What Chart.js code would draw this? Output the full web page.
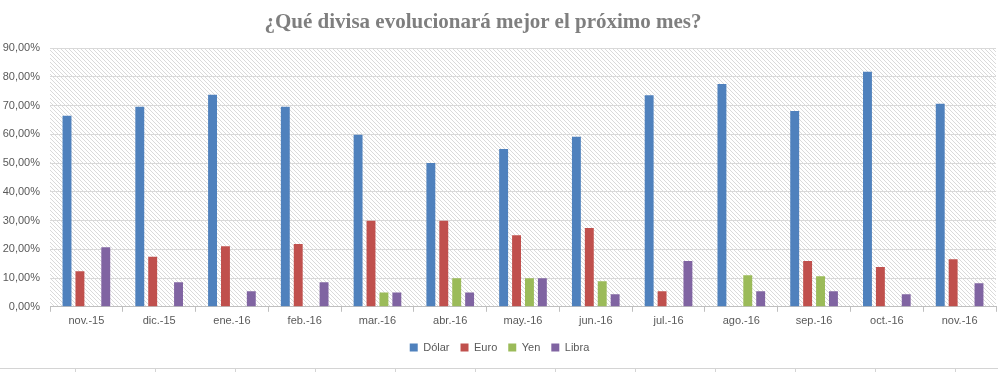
<!DOCTYPE html>
<html>
<head>
<meta charset="utf-8">
<script src="https://cdn.jsdelivr.net/npm/chart.js@4.4.0/dist/chart.umd.min.js"></script>
<style>
  html, body { margin: 0; padding: 0; background: #fff; }
  #wrap { position: relative; width: 998px; height: 372px; }
  #titulo {
    position: absolute; left: 0; top: 8px; width: 966px;
    text-align: center; color: #7f7f7f;
    font: bold 21px 'Liberation Serif', serif; line-height: 26px;
  }
</style>
</head>
<body>
<div id="wrap">
  <canvas id="divisaChart" width="998" height="372"></canvas>
  <div id="titulo">¿Qué divisa evolucionará mejor el próximo mes?</div>
</div>
<script>
var meses = ['nov.-15', 'dic.-15', 'ene.-16', 'feb.-16', 'mar.-16', 'abr.-16', 'may.-16',
             'jun.-16', 'jul.-16', 'ago.-16', 'sep.-16', 'oct.-16', 'nov.-16'];
var dolar = [66.4, 69.6, 73.7, 69.6, 59.8, 50.0, 54.9, 59.1, 73.6, 77.5, 68.1, 81.7, 70.6];
var euro  = [12.4, 17.4, 21.1, 21.8, 29.9, 29.9, 24.9, 27.4, 5.4, null, 15.9, 13.8, 16.5];
var yen   = [null, null, null, null, 5.0, 9.9, 9.9, 8.9, null, 11.0, 10.6, null, null];
var libra = [20.7, 8.5, 5.4, 8.5, 5.0, 5.0, 9.9, 4.4, 15.9, 5.4, 5.4, 4.4, 8.2];
var yTicks = [0, 10, 20, 30, 40, 50, 60, 70, 80, 90];

// diagonal hatch behind the bars, like the excel plot area
var hatchPlugin = {
    id: 'hatch',
    beforeDraw: function (chart) {
        var ctx = chart.ctx, a = chart.chartArea;
        var pc = document.createElement('canvas');
        pc.width = 4; pc.height = 4;
        var p = pc.getContext('2d');
        p.fillStyle = '#ffffff';
        p.fillRect(0, 0, 4, 4);
        p.fillStyle = '#dadada';
        for (var i = 0; i < 4; i++) p.fillRect(i, i, 1, 1);
        ctx.save();
        ctx.fillStyle = ctx.createPattern(pc, 'repeat');
        ctx.fillRect(a.left, a.top, a.right - a.left, a.bottom - a.top);
        ctx.restore();
    },
    afterDraw: function (chart) {
        // spreadsheet cell borders showing under the chart
        var ctx = chart.ctx;
        ctx.save();
        ctx.strokeStyle = '#d4d4d4';
        ctx.lineWidth = 1;
        ctx.beginPath();
        ctx.moveTo(0, 368.5); ctx.lineTo(998, 368.5);
        for (var x = 75; x < 998; x += 80) {
            ctx.moveTo(x + 0.5, 368); ctx.lineTo(x + 0.5, 372);
        }
        ctx.stroke();
        ctx.restore();
    }
};

var ctx = document.getElementById('divisaChart').getContext('2d');
var divisaChart = new Chart(ctx, {
    type: 'bar',
    data: {
        labels: meses,
        datasets: [
            { label: 'Dólar', data: dolar, backgroundColor: '#4f81bd' },
            { label: 'Euro', data: euro, backgroundColor: '#c0504d' },
            { label: 'Yen', data: yen, backgroundColor: '#9bbb59' },
            { label: 'Libra', data: libra, backgroundColor: '#8064a2' }
        ]
    },
    options: {
        responsive: false,
        animation: false,
        devicePixelRatio: 1,
        layout: { padding: { top: 48, left: 3, right: 2, bottom: 9 } },
        datasets: {
            bar: { categoryPercentage: 0.71, barPercentage: 0.69 }
        },
        scales: {
            x: {
                grid: { offset: true, drawOnChartArea: false, tickLength: 5, color: '#bfbfbf' },
                border: { color: '#bfbfbf' },
                ticks: { color: '#595959', font: { family: 'Liberation Sans', size: 11 }, padding: 3, maxRotation: 0 }
            },
            y: {
                min: 0,
                max: 90,
                afterFit: function (scale) { scale.width = 47; },
                afterBuildTicks: function (scale) {
                    scale.ticks = yTicks.map(function (v) { return { value: v }; });
                },
                grid: { color: '#d9d9d9', drawTicks: false },
                border: { display: false },
                ticks: {
                    color: '#595959',
                    font: { family: 'Liberation Sans', size: 11 },
                    padding: 10,
                    callback: function (v) { return v.toFixed(2).replace('.', ',') + '%'; }
                }
            }
        },
        plugins: {
            title: { display: false },
            legend: {
                position: 'bottom',
                labels: {
                    color: '#595959',
                    font: { family: 'Liberation Sans', size: 11 },
                    boxWidth: 8,
                    boxHeight: 8,
                    padding: 11
                }
            },
            tooltip: { enabled: false }
        }
    },
    plugins: [hatchPlugin]
});
</script>
</body>
</html>
